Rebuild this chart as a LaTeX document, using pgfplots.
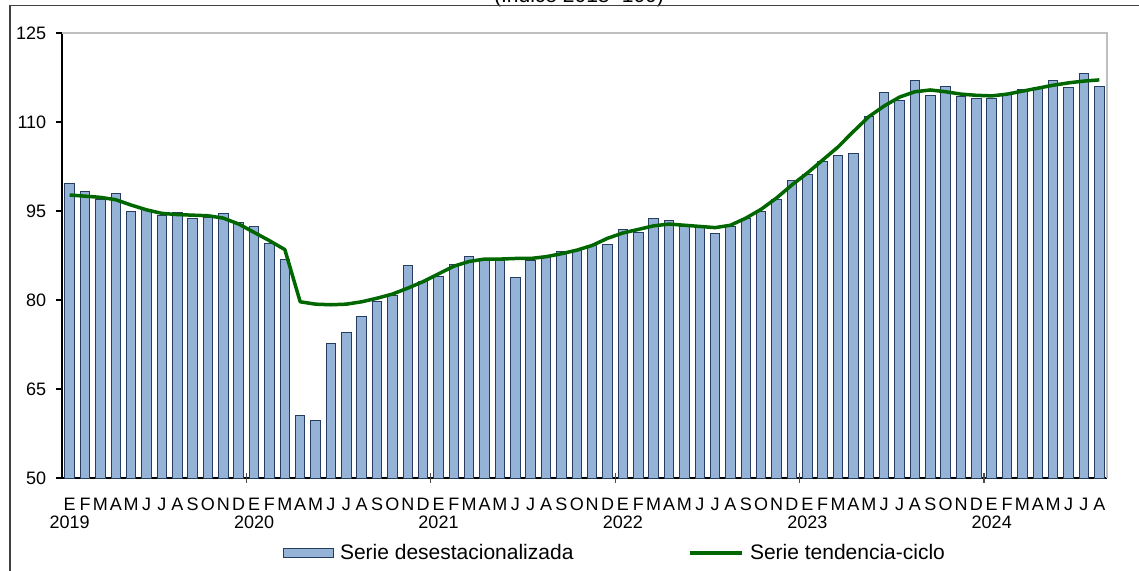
\documentclass[border=0pt]{standalone}
\usepackage{fontspec}
\setmainfont{Liberation Sans}
\usepackage{pgfplots}
\usepackage{pgfplotstable}
\pgfplotsset{compat=1.18}

\definecolor{barfill}{RGB}{149,179,215}
\definecolor{baredge}{RGB}{38,60,96}
\definecolor{trend}{RGB}{0,102,0}

\pgfplotsset{
    barlegend/.style={legend image code/.code={\draw[##1] (0pt,-2.25pt) rectangle (25pt,2.25pt);}},
    linelegend/.style={legend image code/.code={\draw[##1] (0pt,0pt) -- (26pt,0pt);}},
}

% month index (1 = Jan 2019) and value
\pgfplotstableread{
m v
1 99.6
2 98.3
3 97.0
4 98.0
5 94.9
6 95.2
7 94.2
8 94.8
9 93.7
10 93.9
11 94.6
12 93.0
13 92.4
14 89.5
15 86.9
16 60.6
17 59.7
18 72.7
19 74.5
20 77.3
21 79.7
22 80.7
23 85.9
24 83.2
25 84.0
26 86.0
27 87.4
28 86.9
29 86.6
30 83.8
31 86.7
32 87.3
33 88.1
34 88.4
35 89.2
36 89.4
37 91.8
38 91.4
39 93.8
40 93.4
41 92.4
42 92.2
43 91.2
44 92.4
45 93.8
46 95.0
47 97.0
48 100.2
49 101.1
50 103.4
51 104.3
52 104.7
53 110.9
54 115.0
55 113.7
56 117.0
57 114.4
58 116.0
59 114.3
60 114.0
61 114.0
62 114.7
63 115.5
64 115.8
65 117.0
66 115.8
67 118.2
68 116.0
}\desest

\pgfplotstableread{
m v
1 97.7
2 97.5
3 97.3
4 96.9
5 96.0
6 95.2
7 94.6
8 94.4
9 94.3
10 94.2
11 93.8
12 92.8
13 91.4
14 90.0
15 88.5
16 79.7
17 79.3
18 79.2
19 79.3
20 79.7
21 80.3
22 81.0
23 82.0
24 83.1
25 84.4
26 85.7
27 86.5
28 86.9
29 86.9
30 87.0
31 87.0
32 87.3
33 87.8
34 88.4
35 89.2
36 90.4
37 91.3
38 91.9
39 92.5
40 92.8
41 92.6
42 92.4
43 92.2
44 92.6
45 93.8
46 95.3
47 97.2
48 99.4
49 101.4
50 103.6
51 105.8
52 108.4
53 110.9
54 112.7
55 114.2
56 115.1
57 115.4
58 115.1
59 114.7
60 114.5
61 114.4
62 114.7
63 115.2
64 115.7
65 116.2
66 116.6
67 116.9
68 117.1
}\tendencia

\begin{document}
\begin{tikzpicture}
\begin{axis}[
    at={(31pt,46pt)}, anchor=south west,
    scale only axis, width=522.5pt, height=222.5pt,
    xmin=0.5, xmax=68.5, ymin=50, ymax=125,
    axis x line*=bottom, axis y line*=left,
    axis line style={line width=0.6pt, -},
    tick align=outside, major tick length=3pt,
    tick style={black, line width=0.6pt},
    ytick={50,65,...,125},
    /pgf/number format/assume math mode=true,
    tick label style={font=\fontsize{9}{9}\selectfont, black},
    yticklabel style={inner sep=0pt, xshift=-4.7pt},
    xtick={1,...,68},
    xtick style={draw=none},
    xticklabel style={align=center, inner sep=0pt, yshift=-6.8pt},
    xticklabels={
      {E\\2019},F,M,A,M,J,J,A,S,O,N,D,
      {E\\2020},F,M,A,M,J,J,A,S,O,N,D,
      {E\\2021},F,M,A,M,J,J,A,S,O,N,D,
      {E\\2022},F,M,A,M,J,J,A,S,O,N,D,
      {E\\2023},F,M,A,M,J,J,A,S,O,N,D,
      {E\\2024},F,M,A,M,J,J,A},
    clip=false,
    legend columns=2,
    legend style={at={(0.2115,-0.1685)}, anchor=west, draw=none, fill=none,
        inner sep=0pt, outer sep=0pt, nodes={inner sep=0pt},
        font=\fontsize{10.5}{12}\selectfont,
        /tikz/every odd column/.append style={column sep=3pt},
        /tikz/every even column/.append style={column sep=57.5pt}},
]
\draw[black!25, line width=0.6pt] (rel axis cs:0,1) -- (rel axis cs:1,1) -- (rel axis cs:1,0);
\addplot[ybar, bar width=4.75pt, bar shift=0pt, fill=barfill, draw=baredge,
    line width=0.5pt, barlegend]
    table[x=m, y=v] {\desest};
\addlegendentry{Serie desestacionalizada}
\addplot[trend, line width=1.75pt, line join=round, mark=none, linelegend]
    table[x=m, y=v] {\tendencia};
\addlegendentry{Serie tendencia-ciclo}
% year separators on the time axis
\pgfplotsinvokeforeach{12.5,24.5,36.5,48.5,60.5}{
    \draw[black!70, line width=0.6pt] ([yshift=2.5pt]axis cs:#1,50) -- ([yshift=-2.5pt]axis cs:#1,50);
}
\end{axis}
\node[anchor=base, font=\fontsize{10.5}{12}\selectfont] at (289.5pt,283.6pt) {(Índice 2018=100)};
\draw[black!75, line width=0.6pt] (5pt,-5pt) |- (575pt,282.25pt);
\pgfresetboundingbox
\useasboundingbox (0,0) rectangle (569.5pt,285pt);
\end{tikzpicture}
\end{document}
